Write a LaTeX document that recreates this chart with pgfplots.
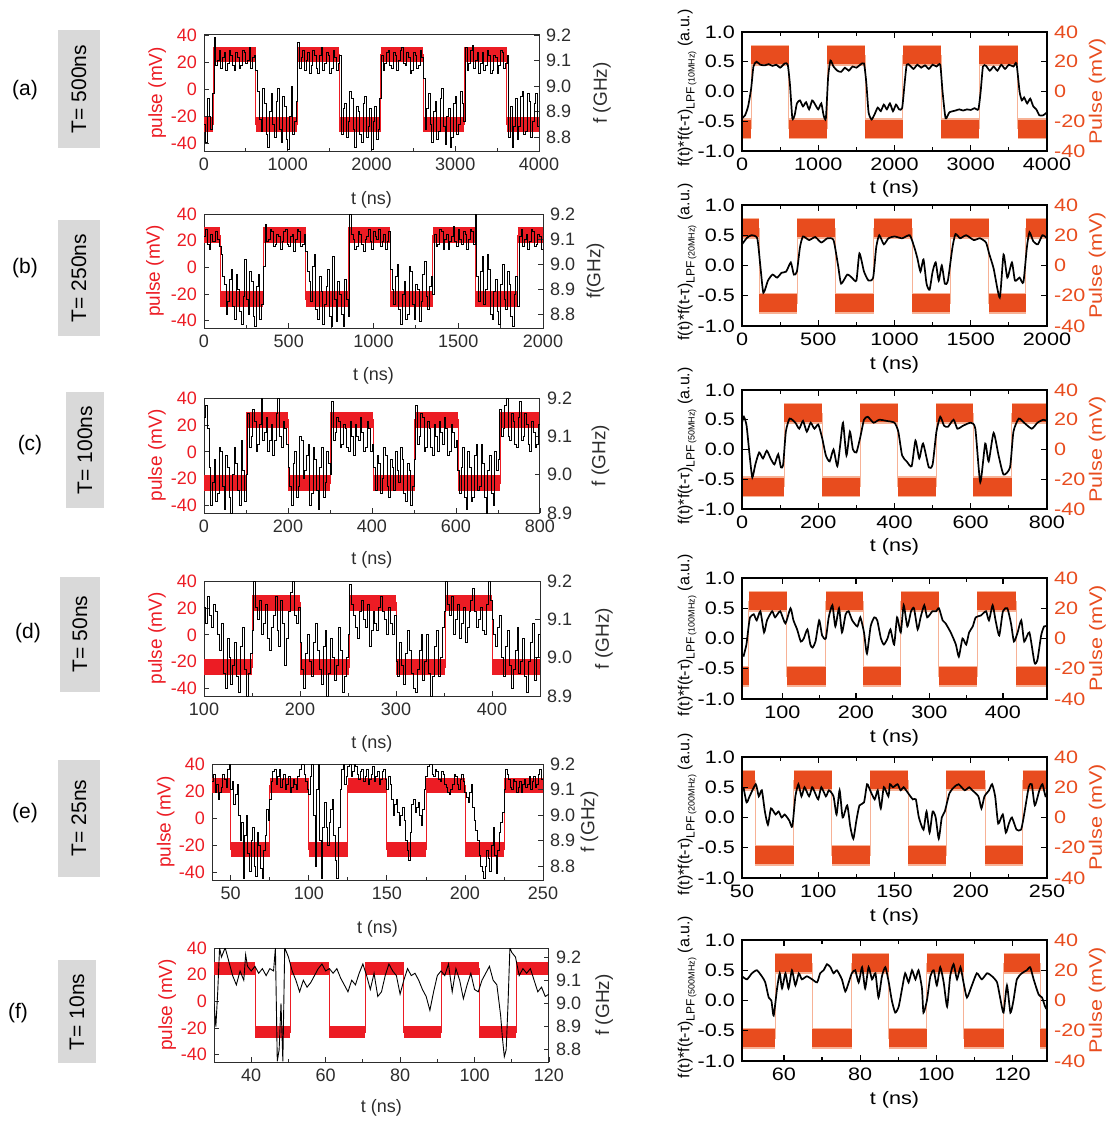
\documentclass[border=0pt]{standalone}
\usepackage{fontspec}
\setmainfont{Liberation Sans}
\newfontfamily\wide[FakeStretch=1.2]{Liberation Sans}
\usepackage{pgfplots}
\pgfplotsset{compat=1.18}
\definecolor{pred}{RGB}{236,28,36}
\definecolor{por}{RGB}{232,76,30}
\definecolor{porl}{RGB}{247,178,150}
\definecolor{tk}{RGB}{45,45,45}
\definecolor{gbox}{RGB}{217,217,217}
\newcommand\lpf[1]{f(t)*f(t-τ)\raisebox{-0.6ex}{\fontsize{6}{7}\selectfont LPF\,\fontsize{4.5}{5}\selectfont(#1)} (a.u.)}
\pgfplotsset{
 common/.style={scale only axis, anchor=south west, clip=true, tick align=inside,
   /pgf/number format/assume math mode=true, /pgf/number format/1000 sep={}},
 LP/.style={common, xtick pos=left, ytick pos=left, ymin=-45.5, ymax=40, ytick={-40,-20,0,20,40},
   axis line style={tk, line width=0.5pt}, every tick/.style={tk, line width=0.4pt},
   major tick length=2.5pt, minor tick length=1.5pt, minor x tick num=1,
   tick label style={font=\fontsize{9}{10}\selectfont, text=tk},
   y tick label style={text=pred},
   ylabel={pulse (mV)}, ylabel style={font=\fontsize{9.5}{11}\selectfont, text=pred, at={(axis description cs:-0.14,0.5)}, anchor=center},
   xlabel={t (ns)}, xlabel style={font=\fontsize{9}{10}\selectfont, text=tk, at={(axis description cs:0.5,-0.42)}, anchor=center}},
 LF/.style={common, axis x line=none, axis y line*=right,
   axis line style={tk, line width=0.5pt}, every tick/.style={tk, line width=0.4pt}, major tick length=2.5pt,
   tick label style={font=\fontsize{9}{10}\selectfont, text=tk},
   y tick label style={/pgf/number format/.cd, fixed, fixed zerofill, precision=1},
   ylabel style={font=\fontsize{9.5}{11}\selectfont, text=tk, at={(axis description cs:1.18,0.5)}, anchor=center}},
 RP/.style={common, axis x line=none, axis y line*=right, ymin=-40, ymax=40, ytick={-40,-20,0,20,40},
   axis line style={black, line width=0.8pt}, every tick/.style={black, line width=0.6pt}, major tick length=3pt,
   tick label style={font=\wide\fontsize{9}{10}\selectfont, text=por},
   ylabel={Pulse (mV)}, ylabel style={font=\wide\fontsize{9}{10}\selectfont, text=por, at={(axis description cs:1.165,0.5)}, anchor=center}},
 RA/.style={common, xtick pos=both, ytick pos=left, ymin=-1, ymax=1, ytick={-1,-0.5,0,0.5,1},
   axis line style={black, line width=0.8pt}, every tick/.style={black, line width=0.6pt},
   major tick length=3pt, minor tick length=1.8pt, minor x tick num=1,
   tick label style={font=\wide\fontsize{9}{10}\selectfont, text=black},
   y tick label style={/pgf/number format/.cd, fixed, fixed zerofill, precision=1},
   xlabel={t (ns)}, xlabel style={font=\wide\fontsize{9}{10}\selectfont, at={(axis description cs:0.5,-0.32)}, anchor=center},
   ylabel style={font=\fontsize{8}{10}\selectfont, at={(axis description cs:-0.18,0.53)}, anchor=center}},
 band/.style={jump mark left, line cap=butt, pred, line width=#1},
 edge/.style={const plot, pred, line width=0.4pt},
 oband/.style={jump mark left, line cap=butt, por, line width=#1},
 olband/.style={jump mark left, line cap=butt, porl, line width=#1},
 oedge/.style={const plot, porl, line width=0.5pt},
 blk/.style={const plot, black, line width=0.45pt},
 sblk/.style={smooth, tension=0.35, black, line width=0.85pt},
}
\begin{document}
\begin{tikzpicture}
\path[use as bounding box] (0,0) rectangle (553.5pt,-562pt);
% side labels
\fill[gbox] (29pt,-15pt) rectangle (50pt,-74pt);
\node[rotate=90,font=\fontsize{10.5}{12}\selectfont] at (39.5pt,-44.5pt) {T= 500ns};
\node[font=\fontsize{10.5}{12}\selectfont] at (12.5pt,-45pt) {(a)};
\fill[gbox] (29pt,-110pt) rectangle (50pt,-168pt);
\node[rotate=90,font=\fontsize{10.5}{12}\selectfont] at (39.5pt,-139pt) {T= 250ns};
\node[font=\fontsize{10.5}{12}\selectfont] at (12.5pt,-134pt) {(b)};
\fill[gbox] (33pt,-196pt) rectangle (52pt,-254pt);
\node[rotate=90,font=\fontsize{10.5}{12}\selectfont] at (42.5pt,-225pt) {T= 100ns};
\node[font=\fontsize{10.5}{12}\selectfont] at (15pt,-222.5pt) {(c)};
\fill[gbox] (30pt,-288.5pt) rectangle (50pt,-346pt);
\node[rotate=90,font=\fontsize{10.5}{12}\selectfont] at (40pt,-317pt) {T= 50ns};
\node[font=\fontsize{10.5}{12}\selectfont] at (14pt,-316.5pt) {(d)};
\fill[gbox] (29pt,-380pt) rectangle (50pt,-438.5pt);
\node[rotate=90,font=\fontsize{10.5}{12}\selectfont] at (39.5pt,-409pt) {T= 25ns};
\node[font=\fontsize{10.5}{12}\selectfont] at (12.5pt,-406.5pt) {(e)};
\fill[gbox] (29pt,-480pt) rectangle (48pt,-531.5pt);
\node[rotate=90,font=\fontsize{10.5}{12}\selectfont] at (38.5pt,-506pt) {T= 10ns};
\node[font=\fontsize{10.5}{12}\selectfont] at (9pt,-506.5pt) {(f)};

%%%%%%%%%%%%%%%% (a) left
\begin{axis}[LP, at={(102pt,-75.5pt)}, width=167.5pt, height=58pt, xmin=0, xmax=4000, xtick={0,1000,2000,3000,4000}]
\addplot[band=7.5pt] coordinates {(0,-26)(110,25.5)(615,-26)(1110,25.5)(1615,-26)(2110,25.5)(2615,-26)(3110,25.5)(3615,-26)(4000,-26)};
\addplot[edge] coordinates {(0,-26)(110,25.5)(615,-26)(1110,25.5)(1615,-26)(2110,25.5)(2615,-26)(3110,25.5)(3615,-26)(4000,-26)};
\end{axis}
\begin{axis}[LF, at={(102pt,-75.5pt)}, width=167.5pt, height=58pt, xmin=0, xmax=4000, ymin=8.745, ymax=9.2, ytick={8.8,8.9,9.0,9.1,9.2}, ylabel={f (GHz)}, ylabel style={at={(axis description cs:1.188,0.5)}}]
\addplot[blk] table[row sep=\\]{0 8.85\\20 8.78\\40 8.95\\60 8.88\\80 8.83\\100 8.97\\120 9.19\\140 9.08\\160 9.10\\180 9.14\\200 9.07\\220 9.11\\240 9.13\\260 9.06\\280 9.09\\300 9.14\\320 9.12\\340 9.08\\360 9.06\\380 9.13\\400 9.11\\420 9.07\\440 9.08\\460 9.14\\480 9.13\\500 9.09\\520 9.10\\540 9.15\\560 9.07\\580 9.11\\600 9.12\\620 9.06\\640 8.98\\660 8.87\\680 8.82\\700 8.99\\720 8.93\\740 8.81\\760 8.76\\780 8.90\\800 8.97\\820 8.85\\840 8.80\\860 8.94\\880 8.99\\900 8.83\\920 8.78\\940 8.96\\960 8.92\\980 8.79\\1000 8.75\\1020 8.88\\1040 9.00\\1060 8.81\\1080 8.86\\1100 8.94\\1120 9.17\\1140 9.07\\1160 9.11\\1180 9.14\\1200 9.06\\1220 9.10\\1240 9.13\\1260 9.05\\1280 9.08\\1300 9.14\\1320 9.12\\1340 9.07\\1360 9.05\\1380 9.12\\1400 9.15\\1420 9.06\\1440 9.09\\1460 9.13\\1480 9.12\\1500 9.05\\1520 9.07\\1540 9.14\\1560 9.11\\1580 9.06\\1600 9.09\\1620 9.12\\1640 8.81\\1660 8.91\\1680 8.93\\1700 8.80\\1720 8.86\\1740 8.98\\1760 8.95\\1780 8.83\\1800 8.76\\1820 8.92\\1840 8.90\\1860 8.81\\1880 8.78\\1900 8.93\\1920 8.96\\1940 8.80\\1960 8.84\\1980 8.91\\2000 8.75\\2020 8.86\\2040 8.92\\2060 8.79\\2080 8.83\\2100 8.95\\2120 9.12\\2140 9.06\\2160 9.09\\2180 9.13\\2200 9.14\\2220 9.08\\2240 9.07\\2260 9.13\\2280 9.12\\2300 9.06\\2320 9.10\\2340 9.14\\2360 9.15\\2380 9.09\\2400 9.08\\2420 9.13\\2440 9.11\\2460 9.05\\2480 9.06\\2500 9.13\\2520 9.12\\2540 9.07\\2560 9.08\\2580 9.14\\2600 9.11\\2620 9.03\\2640 8.83\\2660 8.91\\2680 8.97\\2700 8.85\\2720 8.78\\2740 8.90\\2760 8.94\\2780 8.79\\2800 8.82\\2820 8.95\\2840 8.99\\2860 8.84\\2880 8.77\\2900 8.88\\2920 8.91\\2940 8.76\\2960 8.80\\2980 8.93\\3000 8.96\\3020 8.81\\3040 8.85\\3060 8.98\\3080 8.93\\3100 8.86\\3120 9.15\\3140 9.06\\3160 9.09\\3180 9.14\\3200 9.16\\3220 9.07\\3240 9.10\\3260 9.13\\3280 9.05\\3300 9.09\\3320 9.13\\3340 9.06\\3360 9.08\\3380 9.14\\3400 9.12\\3420 9.05\\3440 9.06\\3460 9.12\\3480 9.11\\3500 9.05\\3520 9.08\\3540 9.14\\3560 9.13\\3580 9.07\\3600 9.09\\3620 9.12\\3640 8.80\\3660 8.92\\3680 8.76\\3700 8.84\\3720 8.95\\3740 8.79\\3760 8.84\\3780 8.96\\3800 8.98\\3820 8.81\\3840 8.82\\3860 8.97\\3880 8.94\\3900 8.80\\3920 8.86\\3940 8.93\\3960 8.97\\3980 8.84\\4000 8.90\\};
\end{axis}

%%%%%%%%%%%%%%%% (a) right
\begin{axis}[RP, at={(371pt,-75.5pt)}, width=152.5pt, height=59.5pt, xmin=0, xmax=4000]
\addplot[oedge] coordinates {(0,-25)(118,24.5)(612,-25)(1115,24.5)(1617,-25)(2111,24.5)(2610,-25)(3112,24.5)(3615,-25)(4000,-25)};
\addplot[olband=10.5pt] coordinates {(0,-25)(118,24.5)(612,-25)(1115,24.5)(1617,-25)(2111,24.5)(2610,-25)(3112,24.5)(3615,-25)(4000,-25)};
\addplot[oband=9pt] coordinates {(0,-25)(118,24.5)(612,-25)(1115,24.5)(1617,-25)(2111,24.5)(2610,-25)(3112,24.5)(3615,-25)(4000,-25)};
\end{axis}
\begin{axis}[RA, at={(371pt,-75.5pt)}, width=152.5pt, height=59.5pt, xmin=0, xmax=4000, xtick={0,1000,2000,3000,4000}, ylabel={\lpf{10MHz}}]
\addplot[sblk] table[row sep=\\]{0 -0.45\\40 -0.40\\80 -0.25\\120 0.05\\150 0.42\\190 0.50\\240 0.45\\300 0.44\\350 0.46\\400 0.43\\450 0.45\\500 0.40\\560 0.47\\600 0.45\\630 0.10\\660 -0.45\\690 -0.40\\720 -0.20\\760 -0.15\\800 -0.25\\840 -0.18\\880 -0.30\\920 -0.15\\960 -0.22\\1000 -0.30\\1040 -0.20\\1070 -0.40\\1100 -0.45\\1130 0.25\\1160 0.52\\1200 0.42\\1250 0.35\\1300 0.33\\1350 0.40\\1400 0.35\\1450 0.42\\1500 0.40\\1550 0.45\\1600 0.47\\1630 0.15\\1660 -0.35\\1700 -0.47\\1740 -0.38\\1780 -0.27\\1820 -0.33\\1860 -0.22\\1900 -0.30\\1940 -0.20\\1980 -0.33\\2020 -0.22\\2060 -0.30\\2100 -0.28\\2130 0.10\\2160 0.45\\2200 0.44\\2250 0.38\\2300 0.45\\2350 0.40\\2400 0.44\\2450 0.38\\2500 0.45\\2550 0.42\\2600 0.45\\2630 0.00\\2670 -0.45\\2720 -0.35\\2800 -0.32\\2850 -0.30\\2900 -0.32\\2950 -0.30\\3000 -0.31\\3050 -0.28\\3100 -0.30\\3130 0.00\\3160 0.42\\3200 0.43\\3250 0.35\\3300 0.42\\3350 0.35\\3400 0.45\\3450 0.38\\3500 0.45\\3560 0.42\\3600 0.47\\3640 0.00\\3670 -0.15\\3700 -0.10\\3740 -0.20\\3780 -0.12\\3820 -0.25\\3860 -0.30\\3900 -0.40\\3950 -0.40\\4000 -0.35\\};
\end{axis}

%%%%%%%%%%%%%%%% (b) left
\begin{axis}[LP, at={(102pt,-164pt)}, width=169.5pt, height=57pt, xmin=0, xmax=2000, xtick={0,500,1000,1500,2000}, ylabel style={at={(axis description cs:-0.145,0.5)}}]
\addplot[band=8pt] coordinates {(0,24)(97,-24)(350,24)(600,-24)(850,24)(1100,-24)(1350,24)(1600,-24)(1850,24)(2000,24)};
\addplot[edge] coordinates {(0,24)(97,-24)(350,24)(600,-24)(850,24)(1100,-24)(1350,24)(1600,-24)(1850,24)(2000,24)};
\end{axis}
\begin{axis}[LF, at={(102pt,-164pt)}, width=169.5pt, height=57pt, xmin=0, xmax=2000, ymin=8.745, ymax=9.2, ytick={8.8,8.9,9.0,9.1,9.2}, ylabel={f(GHz)}, ylabel style={at={(axis description cs:1.155,0.5)}}]
\addplot[blk] table[row sep=\\]{0 9.11\\10 9.14\\20 9.08\\30 9.06\\40 9.12\\50 9.09\\60 9.09\\70 9.13\\80 9.10\\90 9.07\\100 9.04\\110 8.95\\120 8.92\\130 8.80\\140 8.85\\150 8.94\\160 8.98\\170 8.83\\180 8.78\\190 8.96\\200 8.90\\210 8.81\\220 8.76\\230 8.87\\240 9.02\\250 8.86\\260 8.80\\270 8.97\\280 8.93\\290 8.79\\300 8.75\\310 8.91\\320 8.96\\330 8.78\\340 8.84\\350 8.99\\360 9.16\\370 9.09\\380 9.10\\390 9.14\\400 9.13\\410 9.07\\420 9.08\\430 9.12\\440 9.11\\450 9.06\\460 9.09\\470 9.13\\480 9.14\\490 9.08\\500 9.07\\510 9.11\\520 9.12\\530 9.05\\540 9.10\\550 9.14\\560 9.13\\570 9.07\\580 9.08\\590 9.12\\600 9.05\\610 8.97\\620 8.93\\630 8.85\\640 8.99\\650 9.04\\660 8.82\\670 8.78\\680 8.95\\690 8.89\\700 8.76\\710 8.84\\720 8.91\\730 8.98\\740 8.79\\750 8.75\\760 9.03\\770 8.86\\780 8.77\\790 8.93\\800 8.88\\810 8.80\\820 8.75\\830 8.94\\840 8.86\\850 8.79\\860 9.20\\870 9.12\\880 9.10\\890 9.06\\900 9.07\\910 9.13\\920 9.12\\930 9.08\\940 9.05\\950 9.10\\960 9.11\\970 9.14\\980 9.09\\990 9.06\\1000 9.13\\1010 9.11\\1020 9.10\\1030 9.14\\1040 9.07\\1050 9.09\\1060 9.12\\1070 9.06\\1080 9.09\\1090 9.13\\1100 8.98\\1110 8.90\\1120 8.84\\1130 8.95\\1140 9.00\\1150 8.82\\1160 8.76\\1170 8.88\\1180 8.93\\1190 8.78\\1200 8.80\\1210 8.99\\1220 8.97\\1230 8.84\\1240 8.78\\1250 8.92\\1260 8.90\\1270 8.77\\1280 8.85\\1290 8.96\\1300 9.01\\1310 8.87\\1320 8.82\\1330 8.91\\1340 8.95\\1350 8.88\\1360 9.12\\1370 9.07\\1380 9.08\\1390 9.14\\1400 9.13\\1410 9.06\\1420 9.10\\1430 9.12\\1440 9.06\\1450 9.09\\1460 9.11\\1470 9.15\\1480 9.09\\1490 9.07\\1500 9.14\\1510 9.10\\1520 9.08\\1530 9.13\\1540 9.12\\1550 9.06\\1560 9.10\\1570 9.14\\1580 9.13\\1590 9.08\\1600 9.20\\1610 8.95\\1620 8.85\\1630 8.97\\1640 9.03\\1650 8.84\\1660 8.90\\1670 9.04\\1680 8.98\\1690 8.80\\1700 8.78\\1710 8.89\\1720 8.94\\1730 8.81\\1740 8.76\\1750 8.92\\1760 9.00\\1770 8.86\\1780 8.82\\1790 8.97\\1800 8.92\\1810 8.79\\1820 8.75\\1830 8.88\\1840 8.95\\1850 8.83\\1860 9.11\\1870 9.14\\1880 9.07\\1890 9.10\\1900 9.12\\1910 9.06\\1920 9.09\\1930 9.14\\1940 9.13\\1950 9.07\\1960 9.08\\1970 9.12\\1980 9.11\\1990 9.06\\2000 9.10\\};
\end{axis}

%%%%%%%%%%%%%%%% (b) right
\begin{axis}[RP, at={(371pt,-163pt)}, width=152.5pt, height=60.5pt, xmin=0, xmax=2000]
\addplot[oedge] coordinates {(0,24.5)(114,-25)(361,24.5)(612,-25)(863,24.5)(1115,-25)(1366,24.5)(1617,-25)(1862,24.5)(2000,24.5)};
\addplot[olband=10.5pt] coordinates {(0,24.5)(114,-25)(361,24.5)(612,-25)(863,24.5)(1115,-25)(1366,24.5)(1617,-25)(1862,24.5)(2000,24.5)};
\addplot[oband=9pt] coordinates {(0,24.5)(114,-25)(361,24.5)(612,-25)(863,24.5)(1115,-25)(1366,24.5)(1617,-25)(1862,24.5)(2000,24.5)};
\end{axis}
\begin{axis}[RA, at={(371pt,-163pt)}, width=152.5pt, height=60.5pt, xmin=0, xmax=2000, xtick={0,500,1000,1500,2000}, ylabel={\lpf{20MHz}}]
\addplot[sblk] table[row sep=\\]{0 0.35\\30 0.45\\60 0.50\\100 0.45\\120 0.00\\140 -0.45\\170 -0.25\\200 -0.15\\230 -0.20\\260 -0.12\\290 -0.10\\320 0.05\\340 -0.15\\360 -0.10\\380 0.30\\400 0.48\\440 0.42\\480 0.47\\520 0.38\\560 0.45\\600 0.42\\630 0.00\\650 -0.30\\690 -0.15\\720 -0.20\\750 -0.25\\770 0.20\\800 -0.10\\830 -0.25\\860 -0.20\\880 0.30\\900 0.50\\930 0.35\\960 0.45\\1000 0.48\\1050 0.45\\1100 0.50\\1130 0.30\\1150 0.12\\1170 -0.10\\1190 0.10\\1210 -0.30\\1230 -0.40\\1250 -0.10\\1270 0.05\\1290 -0.25\\1310 0.00\\1330 -0.30\\1350 -0.25\\1380 0.30\\1400 0.52\\1430 0.45\\1470 0.50\\1520 0.42\\1560 0.45\\1600 0.38\\1620 0.20\\1650 -0.05\\1690 -0.53\\1715 0.18\\1740 -0.20\\1770 0.05\\1790 -0.25\\1820 -0.20\\1845 -0.28\\1868 0.30\\1885 0.55\\1910 0.40\\1940 0.35\\1970 0.50\\2000 0.45\\};
\end{axis}

%%%%%%%%%%%%%%%% (c) left
\begin{axis}[LP, at={(102pt,-256.5pt)}, width=168pt, height=57.5pt, xmin=0, xmax=800, xtick={0,200,400,600,800}, xlabel style={at={(axis description cs:0.5,-0.41)}}]
\addplot[band=8pt] coordinates {(0,-23.5)(100,24)(200,-23.5)(300,24)(403,-23.5)(502,24)(605,-23.5)(705,24)(800,24)};
\addplot[edge] coordinates {(0,-23.5)(100,24)(200,-23.5)(300,24)(403,-23.5)(502,24)(605,-23.5)(705,24)(800,24)};
\end{axis}
\begin{axis}[LF, at={(102pt,-256.5pt)}, width=168pt, height=57.5pt, xmin=0, xmax=800, ymin=8.9, ymax=9.2, ytick={8.9,9.0,9.1,9.2}, ylabel={f (GHz)}, ylabel style={at={(axis description cs:1.18,0.5)}}]
\addplot[blk] table[row sep=\\]{0 9.15\\4 9.18\\8 9.12\\12 9.02\\16 8.92\\20 8.98\\24 9.04\\28 8.93\\32 8.95\\36 9.07\\40 9.06\\44 8.97\\48 8.91\\52 9.05\\56 9.02\\60 8.94\\64 8.90\\68 9.00\\72 9.07\\76 9.03\\80 8.96\\84 8.92\\88 9.09\\92 9.01\\96 8.93\\100 9.00\\104 9.16\\108 9.07\\112 9.10\\116 9.17\\120 9.14\\124 9.06\\128 9.08\\132 9.13\\136 9.20\\140 9.09\\144 9.11\\148 9.15\\152 9.06\\156 9.09\\160 9.13\\164 9.05\\168 9.09\\172 9.16\\176 9.20\\180 9.10\\184 9.07\\188 9.14\\192 9.12\\196 9.08\\200 9.02\\204 8.97\\208 8.92\\212 9.03\\216 9.06\\220 8.94\\224 8.97\\228 9.10\\232 9.09\\236 8.99\\240 9.01\\244 9.05\\248 9.08\\252 8.92\\256 8.95\\260 9.07\\264 9.04\\268 8.96\\272 8.91\\276 9.02\\280 9.07\\284 8.94\\288 8.98\\292 9.06\\296 9.03\\300 9.00\\304 9.19\\308 9.09\\312 9.11\\316 9.15\\320 9.14\\324 9.07\\328 9.08\\332 9.13\\336 9.12\\340 9.07\\344 9.06\\348 9.14\\352 9.10\\356 9.05\\360 9.13\\364 9.10\\368 9.09\\372 9.15\\376 9.11\\380 9.06\\384 9.07\\388 9.14\\392 9.12\\396 9.06\\400 9.08\\404 9.02\\408 8.96\\412 9.05\\416 9.03\\420 8.95\\424 8.99\\428 9.07\\432 9.05\\436 8.97\\440 8.94\\444 9.04\\448 9.02\\452 8.96\\456 9.06\\460 9.01\\464 8.98\\468 9.07\\472 9.04\\476 8.95\\480 8.93\\484 9.03\\488 9.01\\492 8.92\\496 8.97\\500 9.04\\504 9.18\\508 9.08\\512 9.10\\516 9.16\\520 9.15\\524 9.06\\528 9.07\\532 9.14\\536 9.12\\540 9.07\\544 9.05\\548 9.13\\552 9.10\\556 9.06\\560 9.14\\564 9.11\\568 9.08\\572 9.15\\576 9.12\\580 9.05\\584 9.06\\588 9.13\\592 9.11\\596 9.07\\600 9.09\\604 9.01\\608 8.95\\612 9.02\\616 9.07\\620 8.94\\624 8.91\\628 9.06\\632 9.02\\636 8.93\\640 8.94\\644 9.05\\648 9.08\\652 8.96\\656 8.97\\660 9.08\\664 9.03\\668 8.94\\672 8.90\\676 9.01\\680 9.05\\684 8.95\\688 8.92\\692 9.06\\696 9.01\\700 9.04\\704 9.17\\708 9.10\\712 9.12\\716 9.18\\720 9.20\\724 9.10\\728 9.09\\732 9.16\\736 9.14\\740 9.08\\744 9.07\\748 9.15\\752 9.19\\756 9.09\\760 9.10\\764 9.16\\768 9.13\\772 9.08\\776 9.06\\780 9.14\\784 9.11\\788 9.07\\792 9.08\\796 9.13\\800 9.10\\};
\end{axis}

%%%%%%%%%%%%%%%% (c) right
\begin{axis}[RP, at={(371pt,-254.5pt)}, width=152.5pt, height=59.5pt, xmin=0, xmax=800]
\addplot[oedge] coordinates {(0,-25)(111,24.5)(210,-25)(310,24.5)(408,-25)(510,24.5)(607,-25)(708,24.5)(800,24.5)};
\addplot[olband=10.5pt] coordinates {(0,-25)(111,24.5)(210,-25)(310,24.5)(408,-25)(510,24.5)(607,-25)(708,24.5)(800,24.5)};
\addplot[oband=9pt] coordinates {(0,-25)(111,24.5)(210,-25)(310,24.5)(408,-25)(510,24.5)(607,-25)(708,24.5)(800,24.5)};
\end{axis}
\begin{axis}[RA, at={(371pt,-254.5pt)}, width=152.5pt, height=59.5pt, xmin=0, xmax=800, xtick={0,200,400,600,800}, ylabel={\lpf{50MHz}}]
\addplot[sblk] table[row sep=\\]{0 0.45\\5 0.55\\12 0.40\\20 -0.10\\27 -0.47\\35 -0.25\\45 -0.05\\55 -0.15\\65 -0.02\\75 -0.15\\85 -0.25\\95 -0.08\\102 -0.30\\108 -0.25\\115 0.30\\125 0.52\\140 0.45\\150 0.35\\160 0.48\\170 0.30\\180 0.45\\190 0.35\\200 0.42\\210 0.20\\220 -0.10\\230 -0.20\\240 0.00\\250 -0.28\\258 0.10\\265 0.45\\274 -0.10\\283 0.30\\291 0.00\\300 -0.05\\310 0.20\\320 0.50\\330 0.55\\345 0.45\\360 0.50\\380 0.48\\400 0.45\\410 0.30\\420 -0.10\\432 -0.20\\445 -0.28\\455 0.15\\465 -0.15\\475 0.10\\490 -0.30\\500 -0.25\\510 0.30\\520 0.55\\530 0.40\\540 0.38\\555 0.50\\565 0.35\\580 0.40\\600 0.45\\612 0.35\\625 -0.55\\638 0.10\\647 -0.20\\660 0.28\\673 -0.10\\686 -0.42\\703 -0.30\\712 0.30\\726 0.52\\740 0.45\\760 0.35\\775 0.45\\790 0.50\\800 0.48\\};
\end{axis}

%%%%%%%%%%%%%%%% (d) left
\begin{axis}[LP, at={(102pt,-348pt)}, width=168pt, height=57.5pt, xmin=100, xmax=450, xtick={100,200,300,400}]
\addplot[band=8pt] coordinates {(100,-24)(150,24)(200.5,-24)(251,24)(300.5,-24)(351,24)(400.5,-24)(450,-24)};
\addplot[edge] coordinates {(100,-24)(150,24)(200.5,-24)(251,24)(300.5,-24)(351,24)(400.5,-24)(450,-24)};
\end{axis}
\begin{axis}[LF, at={(102pt,-348pt)}, width=168pt, height=57.5pt, xmin=100, xmax=450, ymin=8.9, ymax=9.2, ytick={8.9,9.0,9.1,9.2}, ylabel={f (GHz)}, ylabel style={at={(axis description cs:1.19,0.5)}}]
\addplot[blk] table[row sep=\\]{100 9.13\\102 9.09\\104 9.16\\106 9.11\\108 9.08\\110 9.14\\112 9.12\\114 9.06\\116 9.02\\118 9.09\\120 8.96\\122 8.92\\124 9.05\\126 9.00\\128 8.93\\130 8.98\\132 9.04\\134 8.95\\136 8.91\\138 9.03\\140 9.08\\142 8.97\\144 8.90\\146 8.96\\148 9.01\\150 9.07\\152 9.20\\154 9.13\\156 9.10\\158 9.15\\160 9.06\\162 9.09\\164 9.14\\166 9.05\\168 9.02\\170 9.08\\172 9.11\\174 9.16\\176 9.07\\178 9.03\\180 9.15\\182 9.09\\184 8.98\\186 9.05\\188 9.12\\190 9.17\\192 9.20\\194 9.11\\196 9.09\\198 9.13\\200 9.04\\202 8.97\\204 8.92\\206 9.01\\208 9.06\\210 8.99\\212 8.95\\214 9.04\\216 9.09\\218 9.02\\220 8.97\\222 8.93\\224 9.03\\226 9.07\\228 8.90\\230 8.96\\232 9.05\\234 9.00\\236 8.94\\238 8.98\\240 9.08\\242 9.02\\244 8.91\\246 8.95\\248 9.00\\250 9.06\\252 9.19\\254 9.14\\256 9.11\\258 9.08\\260 9.05\\262 9.12\\264 9.15\\266 9.10\\268 9.08\\270 9.14\\272 9.03\\274 9.07\\276 9.12\\278 9.09\\280 9.07\\282 9.13\\284 9.16\\286 9.12\\288 9.10\\290 9.06\\292 9.13\\294 9.09\\296 9.06\\298 9.11\\300 8.99\\302 8.95\\304 9.04\\306 8.98\\308 8.93\\310 9.01\\312 9.07\\314 9.02\\316 8.96\\318 8.92\\320 8.91\\322 8.97\\324 9.02\\326 9.06\\328 8.94\\330 8.99\\332 9.06\\334 8.96\\336 8.90\\338 8.95\\340 9.03\\342 9.07\\344 8.95\\346 9.00\\348 9.08\\350 9.12\\352 9.20\\354 9.14\\356 9.11\\358 9.16\\360 9.06\\362 9.10\\364 9.14\\366 9.05\\368 9.09\\370 9.13\\372 9.04\\374 9.08\\376 9.12\\378 9.15\\380 9.18\\382 9.12\\384 9.08\\386 9.10\\388 9.13\\390 9.07\\392 9.06\\394 9.14\\396 9.20\\398 9.15\\400 9.10\\402 9.06\\404 9.03\\406 9.08\\408 9.11\\410 9.00\\412 8.95\\414 9.03\\416 9.07\\418 8.98\\420 8.92\\422 8.97\\424 9.02\\426 9.08\\428 8.96\\430 8.99\\432 9.05\\434 8.95\\436 8.91\\438 8.99\\440 9.04\\442 9.09\\444 8.94\\446 9.00\\448 9.06\\450 9.00\\};
\end{axis}

%%%%%%%%%%%%%%%% (d) right
\begin{axis}[RP, at={(371pt,-349.5pt)}, width=152.5pt, height=60.5pt, xmin=45, xmax=460]
\addplot[oedge] coordinates {(45,-25)(54,24.5)(106,-25)(159,24.5)(210,-25)(261,24.5)(313,-25)(365,24.5)(418,-25)(460,-25)};
\addplot[olband=10.5pt] coordinates {(45,-25)(54,24.5)(106,-25)(159,24.5)(210,-25)(261,24.5)(313,-25)(365,24.5)(418,-25)(460,-25)};
\addplot[oband=9pt] coordinates {(45,-25)(54,24.5)(106,-25)(159,24.5)(210,-25)(261,24.5)(313,-25)(365,24.5)(418,-25)(460,-25)};
\end{axis}
\begin{axis}[RA, at={(371pt,-349.5pt)}, width=152.5pt, height=60.5pt, xmin=45, xmax=460, xtick={100,200,300,400}, ylabel={\lpf{100MHz}}]
\addplot[sblk] table[row sep=\\]{47 -0.30\\51 -0.10\\54 0.20\\56 0.35\\61 0.40\\65 0.30\\70 0.45\\75 0.10\\79 0.30\\86 0.45\\90 0.35\\97 0.45\\104 0.25\\111 0.50\\115 0.30\\120 0.15\\125 -0.05\\129 0.00\\134 0.15\\138 -0.10\\141 -0.15\\145 -0.05\\150 0.30\\154 0.05\\159 0.00\\163 0.35\\168 0.55\\172 0.20\\177 0.50\\181 0.10\\186 0.40\\190 0.45\\195 0.30\\202 0.20\\206 0.35\\211 0.10\\215 -0.25\\220 0.20\\225 0.35\\229 0.30\\234 0.00\\238 -0.10\\243 0.00\\247 0.15\\252 -0.10\\256 0.35\\261 0.10\\265 0.55\\270 0.20\\275 0.45\\279 0.50\\284 0.15\\288 0.35\\293 0.55\\297 0.35\\304 0.45\\309 0.45\\313 0.50\\318 0.30\\322 0.25\\329 0.10\\336 -0.10\\340 -0.30\\345 0.00\\350 -0.10\\354 0.10\\359 0.20\\363 0.35\\370 0.38\\377 0.45\\381 0.30\\386 0.55\\390 0.30\\395 0.05\\400 0.45\\406 0.50\\411 0.25\\415 -0.05\\420 0.10\\425 0.30\\429 -0.05\\436 0.10\\443 -0.40\\447 -0.35\\452 0.05\\456 0.20\\460 0.20\\};
\end{axis}

%%%%%%%%%%%%%%%% (e) left
\begin{axis}[LP, at={(106pt,-440pt)}, width=165.5pt, height=58pt, xmin=38, xmax=250, xtick={50,100,150,200,250}]
\addplot[band=7.5pt] coordinates {(38,24)(50,-23)(75,24)(100,-23)(125,24)(150,-23)(175,24)(200,-23)(225,24)(250,24)};
\addplot[edge] coordinates {(38,24)(50,-23)(75,24)(100,-23)(125,24)(150,-23)(175,24)(200,-23)(225,24)(250,24)};
\end{axis}
\begin{axis}[LF, at={(106pt,-440pt)}, width=165.5pt, height=58pt, xmin=38, xmax=250, ymin=8.745, ymax=9.2, ytick={8.8,8.9,9.0,9.1,9.2}, ylabel={f (GHz)}, ylabel style={at={(axis description cs:1.14,0.5)}}]
\addplot[blk] table[row sep=\\]{38 9.13\\39 9.16\\40 9.09\\41 9.12\\42 9.06\\43 9.09\\44 9.11\\45 9.16\\46 9.14\\47 9.11\\48 9.18\\49 9.20\\50 9.10\\51 9.13\\52 9.04\\53 9.08\\54 9.12\\55 9.00\\56 8.90\\57 8.97\\58 8.75\\59 8.92\\60 9.00\\61 8.85\\62 8.78\\63 8.90\\64 8.95\\65 8.80\\66 8.76\\67 8.93\\68 8.88\\69 8.79\\70 8.75\\71 8.86\\72 8.92\\73 9.02\\74 8.98\\75 9.06\\76 9.13\\77 9.17\\78 9.18\\79 9.12\\80 9.15\\81 9.18\\82 9.11\\83 9.14\\84 9.16\\85 9.10\\86 9.12\\87 9.15\\88 9.09\\89 9.11\\90 9.14\\91 9.12\\92 9.10\\93 9.15\\94 9.18\\95 9.20\\96 9.20\\97 9.16\\98 9.13\\99 9.10\\100 9.08\\101 9.15\\102 9.20\\103 9.00\\104 8.80\\105 9.10\\106 9.20\\107 8.90\\108 8.75\\109 8.95\\110 9.05\\111 8.95\\112 8.88\\113 8.97\\114 9.02\\115 9.06\\116 8.92\\117 8.82\\118 8.75\\119 8.95\\120 9.10\\121 9.18\\122 9.20\\123 9.12\\124 9.15\\125 9.19\\126 9.20\\127 9.15\\128 9.17\\129 9.20\\130 9.19\\131 9.16\\132 9.14\\133 9.17\\134 9.18\\135 9.13\\136 9.15\\137 9.18\\138 9.12\\139 9.14\\140 9.16\\141 9.19\\142 9.13\\143 9.15\\144 9.17\\145 9.12\\146 9.14\\147 9.17\\148 9.18\\149 9.14\\150 9.10\\151 9.15\\152 9.12\\153 9.06\\154 9.00\\155 9.04\\156 9.06\\157 9.01\\158 8.96\\159 9.00\\160 9.03\\161 8.98\\162 8.90\\163 8.86\\164 8.82\\165 8.93\\166 9.04\\167 9.06\\168 9.01\\169 9.03\\170 9.05\\171 9.00\\172 8.96\\173 9.02\\174 9.10\\175 9.15\\176 9.19\\177 9.20\\178 9.20\\179 9.16\\180 9.15\\181 9.18\\182 9.17\\183 9.14\\184 9.13\\185 9.17\\186 9.16\\187 9.12\\188 9.11\\189 9.09\\190 9.08\\191 9.10\\192 9.12\\193 9.16\\194 9.15\\195 9.12\\196 9.10\\197 9.14\\198 9.16\\199 9.13\\200 9.09\\201 9.07\\202 9.05\\203 9.09\\204 9.12\\205 9.03\\206 8.98\\207 8.94\\208 8.90\\209 8.84\\210 8.80\\211 8.78\\212 8.75\\213 8.80\\214 8.86\\215 8.83\\216 8.78\\217 8.88\\218 8.95\\219 8.84\\220 8.77\\221 8.86\\222 8.93\\223 8.97\\224 9.01\\225 9.10\\226 9.18\\227 9.16\\228 9.14\\229 9.11\\230 9.10\\231 9.14\\232 9.13\\233 9.09\\234 9.11\\235 9.13\\236 9.09\\237 9.12\\238 9.14\\239 9.11\\240 9.12\\241 9.15\\242 9.10\\243 9.13\\244 9.15\\245 9.11\\246 9.12\\247 9.16\\248 9.18\\249 9.14\\250 9.16\\};
\end{axis}

%%%%%%%%%%%%%%%% (e) right
\begin{axis}[RP, at={(371pt,-439pt)}, width=152.5pt, height=60.5pt, xmin=50, xmax=250]
\addplot[oedge] coordinates {(50,24.5)(58.7,-25)(84,24.5)(109,-25)(134,24.5)(159,-25)(184,24.5)(209.6,-25)(234,24.5)(250,24.5)};
\addplot[olband=10.5pt] coordinates {(50,24.5)(58.7,-25)(84,24.5)(109,-25)(134,24.5)(159,-25)(184,24.5)(209.6,-25)(234,24.5)(250,24.5)};
\addplot[oband=9pt] coordinates {(50,24.5)(58.7,-25)(84,24.5)(109,-25)(134,24.5)(159,-25)(184,24.5)(209.6,-25)(234,24.5)(250,24.5)};
\end{axis}
\begin{axis}[RA, at={(371pt,-439pt)}, width=152.5pt, height=60.5pt, xmin=50, xmax=250, xtick={50,100,150,200,250}, ylabel={\lpf{200MHz}}]
\addplot[sblk] table[row sep=\\]{51 0.50\\53 0.25\\55 0.35\\59 0.55\\61 0.35\\63 0.45\\65 0.10\\67 -0.12\\69 0.15\\72 0.05\\74 0.10\\76 0.00\\78 0.05\\81 -0.05\\83 -0.15\\85 0.35\\87 0.55\\89 0.35\\91 0.50\\94 0.35\\96 0.50\\98 0.40\\100 0.30\\102 0.50\\105 0.35\\107 0.45\\110 0.35\\112 0.05\\114 0.45\\116 0.00\\119 0.20\\121 -0.15\\123 -0.35\\125 -0.05\\127 0.20\\130 0.25\\132 0.55\\134 0.45\\137 0.30\\139 0.45\\141 0.15\\143 0.50\\146 0.35\\147 0.55\\149 0.50\\152 0.55\\154 0.45\\156 0.50\\159 0.40\\162 0.30\\164 0.30\\166 0.00\\169 -0.20\\171 0.10\\173 -0.25\\175 0.10\\177 0.00\\179 -0.35\\181 0.00\\183 0.10\\186 0.40\\189 0.50\\192 0.55\\196 0.45\\199 0.50\\201 0.45\\205 0.35\\207 0.15\\209 0.35\\212 0.45\\214 0.55\\216 0.35\\218 -0.10\\221 0.05\\223 -0.25\\225 -0.10\\227 0.00\\230 -0.20\\233 -0.20\\235 0.05\\238 0.50\\240 0.55\\242 0.20\\245 0.45\\247 0.55\\249 0.35\\250 0.40\\};
\end{axis}

%%%%%%%%%%%%%%%% (f) left
\begin{axis}[LP, at={(107pt,-531pt)}, width=167.5pt, height=57pt, xmin=30, xmax=120, xtick={40,60,80,100,120}, xlabel style={at={(axis description cs:0.5,-0.40)}}]
\addplot[band=6.3pt] coordinates {(30,24.5)(41,-23)(50.5,24.5)(61,-23)(70.6,24.5)(81,-23)(91,24.5)(101.2,-23)(111.2,24.5)(120,24.5)};
\addplot[edge] coordinates {(30,24.5)(41,-23)(50.5,24.5)(61,-23)(70.6,24.5)(81,-23)(91,24.5)(101.2,-23)(111.2,24.5)(120,24.5)};
\end{axis}
\begin{axis}[LF, at={(107pt,-531pt)}, width=167.5pt, height=57pt, xmin=30, xmax=120, ymin=8.747, ymax=9.239, ytick={8.8,8.9,9.0,9.1,9.2}, ylabel={f (GHz)}, ylabel style={at={(axis description cs:1.165,0.5)}}]
\addplot[black, line width=0.45pt] table[row sep=\\]{30 9.00\\30.5 8.90\\31 9.05\\31.5 9.24\\32 9.20\\33 9.24\\34 9.18\\35 9.12\\36 9.08\\36.5 9.11\\37 9.14\\38 9.10\\38.5 9.21\\39 9.16\\40 9.14\\41 9.16\\42 9.13\\43 9.15\\44 9.12\\45 9.15\\46 9.14\\46.5 9.24\\47 8.75\\47.5 8.80\\48 9.00\\48.5 8.75\\49 9.24\\50 9.20\\51 9.14\\52 9.10\\53 9.05\\54 9.10\\55 9.07\\56 9.09\\57 9.12\\58 9.15\\59 9.17\\60 9.14\\61 9.15\\62 9.13\\63 9.15\\64 9.11\\65 9.08\\66 9.05\\67 9.10\\68 9.08\\69 9.13\\70 9.17\\71 9.12\\72 9.06\\73 9.13\\74 9.03\\75 9.05\\76 9.12\\77 9.17\\78 9.14\\79 9.12\\80 9.04\\81 9.10\\82 9.15\\83 9.12\\84 9.13\\85 9.10\\86 9.06\\87 9.03\\88 8.97\\89 9.05\\90 9.12\\91 9.14\\92 9.12\\93 9.17\\94 9.05\\95 9.15\\96 9.10\\97 9.02\\98 9.08\\99 9.13\\100 9.06\\101 9.05\\102 9.10\\103 9.13\\104 9.16\\105 9.10\\106 9.08\\107 8.95\\107.5 8.85\\108 8.77\\108.5 8.80\\109 9.00\\109.5 9.24\\110 9.22\\111 9.20\\112 9.12\\113 9.15\\114 9.13\\115 9.15\\116 9.10\\117 9.05\\118 9.07\\119 9.03\\120 9.04\\};
\end{axis}

%%%%%%%%%%%%%%%% (f) right
\begin{axis}[RP, at={(371pt,-530.5pt)}, width=152.5pt, height=60.5pt, xmin=49, xmax=129]
\addplot[oedge] coordinates {(49,-25)(57.7,24.5)(67.4,-25)(77.8,24.5)(87.5,-25)(97.5,24.5)(107.1,-25)(117.6,24.5)(127.2,-25)(129,-25)};
\addplot[olband=10.5pt] coordinates {(49,-25)(57.7,24.5)(67.4,-25)(77.8,24.5)(87.5,-25)(97.5,24.5)(107.1,-25)(117.6,24.5)(127.2,-25)(129,-25)};
\addplot[oband=9pt] coordinates {(49,-25)(57.7,24.5)(67.4,-25)(77.8,24.5)(87.5,-25)(97.5,24.5)(107.1,-25)(117.6,24.5)(127.2,-25)(129,-25)};
\end{axis}
\begin{axis}[RA, at={(371pt,-530.5pt)}, width=152.5pt, height=60.5pt, xmin=49, xmax=129, xtick={60,80,100,120}, ylabel={\lpf{500MHz}}]
\addplot[sblk] table[row sep=\\]{49 0.40\\50.3 0.35\\51.6 0.45\\52.9 0.50\\54.2 0.40\\55.1 0.30\\56 0.05\\56.7 0.00\\57.3 -0.25\\58.2 0.20\\58.9 0.45\\59.5 0.20\\60.4 0.45\\61.2 0.20\\62.1 0.50\\63 0.25\\63.9 0.45\\64.7 0.35\\66 0.40\\67.4 0.35\\68.7 0.30\\69.5 0.45\\70.4 0.50\\71.3 0.60\\72.2 0.55\\73 0.45\\73.9 0.50\\75.2 0.35\\76.1 0.15\\77 0.30\\77.8 0.45\\78.7 0.50\\79.6 0.30\\80.5 0.55\\81.3 0.20\\82.2 0.55\\83.1 0.35\\84 0.45\\84.8 0.05\\85.7 0.40\\86.6 0.55\\87.5 0.30\\88.3 0.00\\89.2 -0.20\\90.1 -0.10\\91 0.20\\91.8 0.45\\92.7 0.30\\93.6 0.50\\94.5 0.35\\95.3 0.50\\96.2 0.20\\96.6 -0.20\\97.5 0.00\\98.4 0.40\\99.3 0.50\\100.1 0.25\\101 0.55\\101.9 0.30\\102.8 -0.10\\103.6 0.40\\104.5 0.60\\105.4 0.35\\106.3 0.55\\107.1 0.30\\108 0.05\\109.3 0.25\\110.6 0.45\\111.9 0.35\\113.3 0.45\\114.6 0.40\\115.9 0.30\\116.7 0.05\\117.6 -0.20\\118.5 0.25\\119.4 -0.20\\120.2 0.00\\121.1 0.35\\122.4 0.45\\123.7 0.50\\124.6 0.55\\125.5 0.35\\126.8 0.10\\127.7 0.05\\128.5 -0.10\\129 -0.15\\};
\end{axis}
\end{tikzpicture}
\end{document}
